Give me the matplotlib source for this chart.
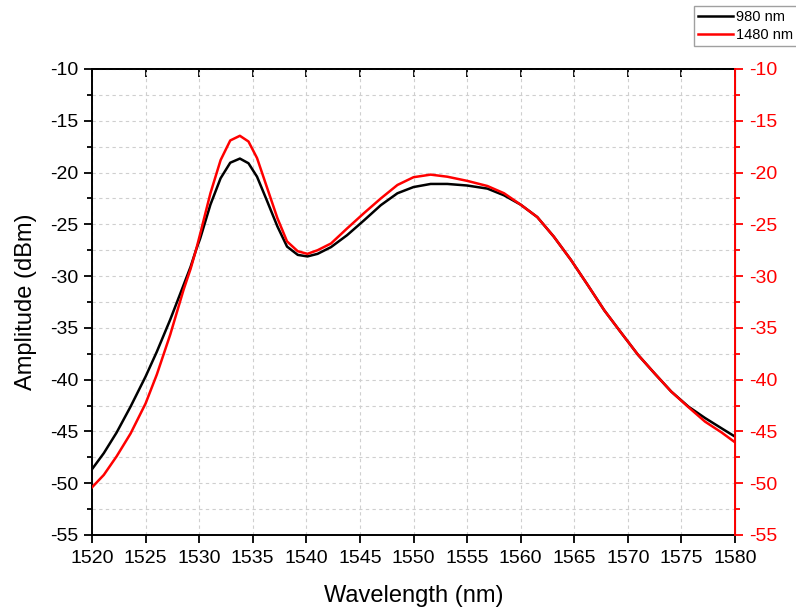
import matplotlib.pyplot as plt
import numpy as np
from matplotlib.ticker import MultipleLocator

plt.rcParams['font.family'] = ['Liberation Sans', 'DejaVu Sans']
plt.rcParams['axes.unicode_minus'] = False

# ====== DATA ====== #
wl_980 = [1520.0, 1521.1, 1522.3, 1523.6, 1525.0, 1526.05, 1527.3, 1528.55,
          1529.2, 1529.7, 1530.1, 1531.05, 1532.0, 1532.9, 1533.8, 1534.6,
          1535.4, 1536.3, 1537.3, 1538.2, 1539.2, 1540.1, 1541.05, 1542.3,
          1543.8, 1545.4, 1546.95, 1548.5, 1550.0, 1551.6, 1553.15, 1555.0,
          1556.9, 1558.45, 1560.0, 1561.55, 1563.1, 1564.7, 1566.25, 1567.8,
          1569.4, 1570.95, 1572.5, 1574.05, 1575.65, 1577.2, 1578.75, 1580.0]
amp_980 = [-48.65, -47.1, -45.1, -42.6, -39.7, -37.3, -34.2, -30.85,
           -29.1, -27.5, -26.35, -23.1, -20.55, -19.05, -18.65, -19.1,
           -20.4, -22.65, -25.2, -27.15, -27.95, -28.1, -27.85, -27.2,
           -26.05, -24.6, -23.15, -22.0, -21.4, -21.1, -21.1, -21.25,
           -21.55, -22.2, -23.1, -24.3, -26.2, -28.45, -30.85, -33.3,
           -35.5, -37.6, -39.4, -41.15, -42.6, -43.7, -44.7, -45.5]

wl_1480 = wl_980
amp_1480 = [-50.4, -49.2, -47.4, -45.2, -42.3, -39.5, -35.65, -31.3,
            -29.3, -27.5, -25.9, -22.0, -18.8, -16.9, -16.45, -17.0,
            -18.6, -21.35, -24.4, -26.65, -27.6, -27.85, -27.5, -26.85,
            -25.4, -23.9, -22.5, -21.2, -20.45, -20.2, -20.4, -20.8,
            -21.3, -22.0, -23.1, -24.3, -26.2, -28.45, -30.85, -33.3,
            -35.5, -37.6, -39.4, -41.15, -42.65, -44.05, -45.1, -46.05]

x_ticks = np.arange(1520, 1581, 5)
y_ticks = np.arange(-55, -9, 5)

# ====== FIGURE ====== #
fig = plt.figure(figsize=(7.96, 6.11), dpi=100)
ax = fig.add_axes([92/796, 1-535/611, (735-92)/796, (535-69)/611])
ax2 = ax.twinx()

l1, = ax.plot(wl_980, amp_980, color='black', lw=1.8, solid_joinstyle='round')
l2, = ax2.plot(wl_1480, amp_1480, color='red', lw=1.8, solid_joinstyle='round')

for a in (ax, ax2):
    a.set_xlim(1520, 1580)
    a.set_ylim(-55, -10)
    a.set_yticks(y_ticks)
    a.yaxis.set_minor_locator(MultipleLocator(2.5))

ax.set_xticks(x_ticks)
ax.grid(True, which='major', axis='x', color='#cfcfcf', ls=(0, (3, 3)), lw=0.8)
ax.grid(True, which='both', axis='y', color='#cfcfcf', ls=(0, (3, 3)), lw=0.8)
ax.set_axisbelow(True)

# left / bottom
ax.tick_params(axis='x', which='major', direction='out', length=6, width=1.3,
               labelsize=14, pad=5, top=False)
ax.tick_params(axis='y', which='major', direction='out', length=6, width=1.3,
               labelsize=14, pad=4)
ax.tick_params(axis='y', which='minor', direction='out', length=3.5, width=1.3)
for sp in ('left', 'bottom', 'top'):
    ax.spines[sp].set_linewidth(1.4)

# top: inward ticks, no labels
top = ax.secondary_xaxis('top')
top.set_xticks(x_ticks)
top.tick_params(direction='in', length=6, width=1.3, labeltop=False)
top.spines['top'].set_linewidth(1.4)

# right axis in red
ax2.spines['right'].set_color('red')
ax2.spines['right'].set_linewidth(1.4)
for sp in ('left', 'bottom', 'top'):
    ax2.spines[sp].set_visible(False)
ax2.tick_params(axis='y', which='major', direction='out', length=6, width=1.3,
                colors='red', labelsize=14, pad=4)
ax2.tick_params(axis='y', which='minor', direction='out', length=3.5,
                width=1.3, colors='red')

ax.set_xlabel('Wavelength (nm)', fontsize=17, labelpad=13)
ax.set_ylabel('Amplitude (dBm)', fontsize=17, labelpad=9)

fig.legend([l1, l2], ['980 nm', '1480 nm'], loc='upper left',
           bbox_to_anchor=(694/796, 1-6/611), fontsize=10.5, frameon=True,
           fancybox=False, edgecolor='#a0a0a0', framealpha=1,
           handlelength=2.4, handletextpad=0.15, labelspacing=0.25,
           borderpad=0.3, borderaxespad=0)

plt.savefig('out.png', dpi=100)
